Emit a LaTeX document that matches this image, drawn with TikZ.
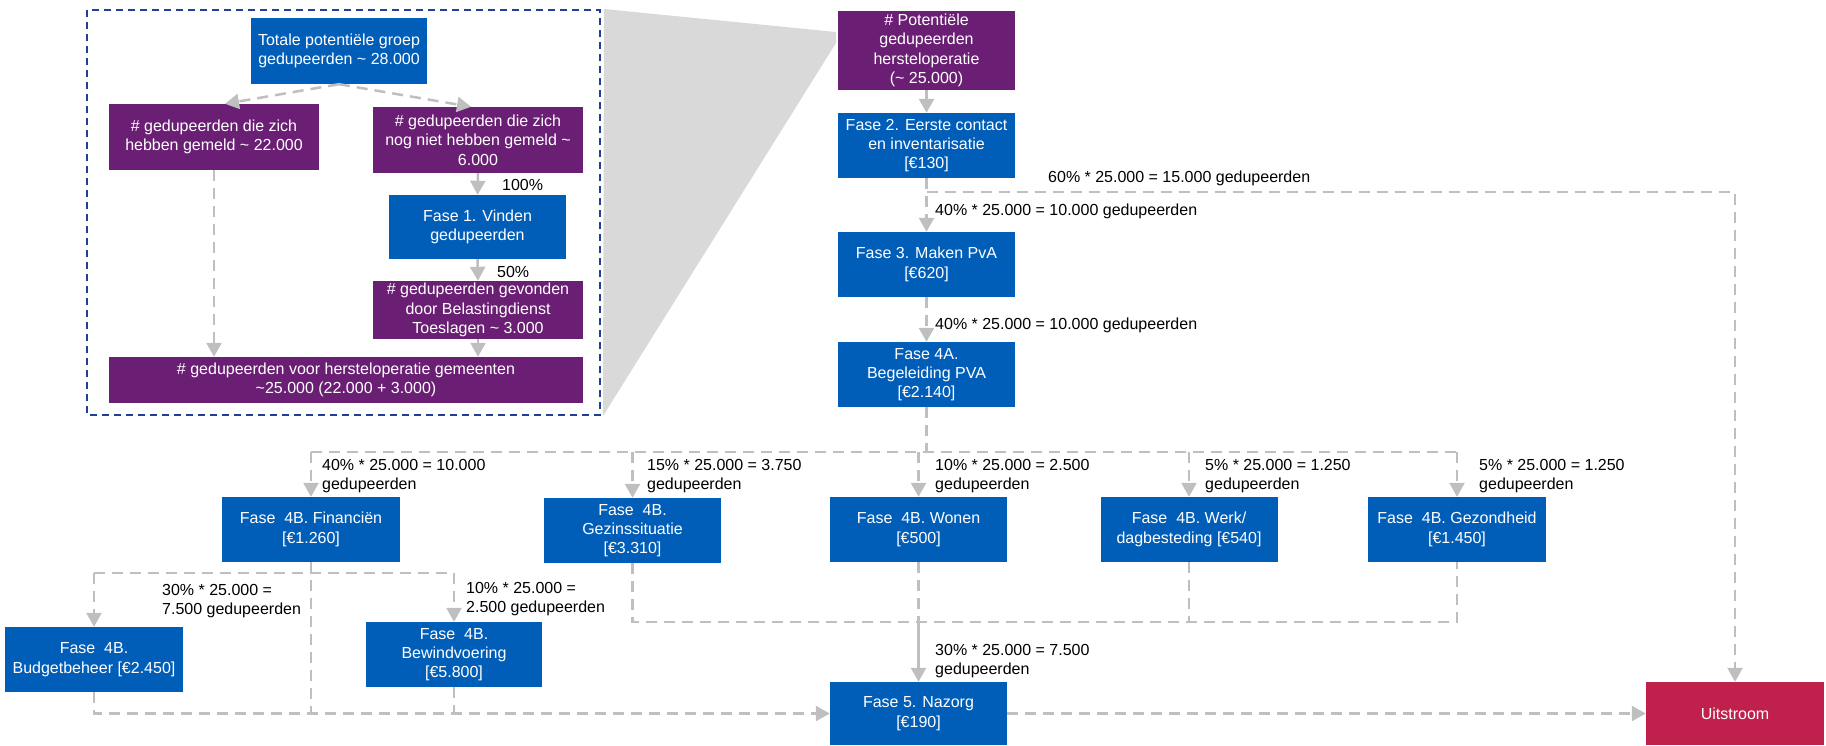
\documentclass[tikz,border=0pt]{standalone}
\usepackage{fontspec}
\setmainfont{Liberation Sans}
\usetikzlibrary{arrows.meta,calc}
\definecolor{boxblue}{RGB}{0,94,184}
\definecolor{boxpurple}{RGB}{107,31,116}
\definecolor{boxred}{RGB}{192,32,76}
\definecolor{arrowgray}{RGB}{191,191,191}
\definecolor{funnelgray}{RGB}{217,217,217}
\definecolor{frameblue}{RGB}{31,64,150}
\tikzset{
 box/.style={rectangle, inner sep=0pt, text=white, align=center, font=\fontsize{16}{19.3}\selectfont},
 bluebox/.style={box, fill=boxblue},
 purplebox/.style={box, fill=boxpurple},
 redbox/.style={box, fill=boxred},
 sz/.style 2 args={minimum width=#1pt, minimum height=#2pt},
 flow/.style={draw=arrowgray, line width=2.5pt, -{Triangle[width=15pt,length=14pt]}},
 dflow/.style={flow, dash pattern=on 11pt off 7pt},
 dline/.style={draw=arrowgray, line width=2.5pt, dash pattern=on 11pt off 7pt},
 lbl/.style={anchor=west, align=left, inner sep=0pt, text=black, font=\fontsize{16}{19.3}\selectfont},
}
\begin{document}
\begin{tikzpicture}[x=1pt,y=-1pt]
\useasboundingbox (0,0) rectangle (1826,745);
% funnel and frame
\fill[funnelgray] (604,9) -- (836,32) -- (836,43) -- (603,416) -- cycle;
\draw[frameblue, line width=2pt, dash pattern=on 7pt off 5pt] (87,10) rectangle (600,415);
% left panel
\node[bluebox, sz={176}{66}] (tot) at (339,51) {Totale potentiële groep\\gedupeerden \textasciitilde{} 28.000};
\node[purplebox, sz={210}{66}] (k22) at (214,137) {\# gedupeerden die zich\\hebben gemeld \textasciitilde{} 22.000};
\node[purplebox, sz={210}{66}] (k6) at (478,140) {\# gedupeerden die zich\\nog niet hebben gemeld \textasciitilde\\6.000};
\node[bluebox, sz={177}{64}] (f1) at (477.5,227) {Fase 1. Vinden\\gedupeerden};
\node[purplebox, sz={210}{58}] (k3) at (478,310) {\# gedupeerden gevonden\\door Belastingdienst\\Toeslagen \textasciitilde{} 3.000};
\node[purplebox, sz={474}{46}] (bot) at (346,380) {\# gedupeerden voor hersteloperatie gemeenten\\\textasciitilde25.000 (22.000 + 3.000)};
\draw[dflow] (tot.south) -- ($(k22.north)+(11,0)$);
\draw[dflow] (tot.south) -- ($(k6.north)+(-7,0)$);
\draw[dflow] (k22.south) -- (k22.south |- bot.north);
\draw[flow] (k6.south) -- (f1.north);
\draw[flow] (f1.south) -- (k3.north);
\draw[flow] (k3.south) -- (k3.south |- bot.north);
\node[lbl] (l100) at (502,185) {100\%};
\node[lbl] (l50) at (497,272) {50\%};
% right column
\node[purplebox, sz={177}{79}] (pot) at (926.5,50.5) {\# Potentiële\\gedupeerden\\hersteloperatie\\(\textasciitilde{} 25.000)};
\node[bluebox, sz={177}{65}] (f2) at (926.5,145.5) {Fase 2. Eerste contact\\en inventarisatie\\{[}€130]};
\node[bluebox, sz={177}{65}] (f3) at (926.5,264.5) {Fase 3. Maken PvA\\{[}€620]};
\node[bluebox, sz={177}{65}] (f4a) at (926.5,374.5) {Fase 4A.\\Begeleiding PVA\\{[}€2.140]};
% 4B row
\node[bluebox, sz={178}{65}] (fin) at (311,529.5) {Fase~ 4B. Financiën\\{[}€1.260]};
\node[bluebox, sz={177}{65}] (gez) at (632.5,530.5) {Fase~ 4B.\\Gezinssituatie\\{[}€3.310]};
\node[bluebox, sz={177}{65}] (won) at (918.5,529.5) {Fase~ 4B. Wonen\\{[}€500]};
\node[bluebox, sz={177}{65}] (werk) at (1189,529.5) {Fase~ 4B. Werk/\\dagbesteding [€540]};
\node[bluebox, sz={178}{65}] (gzh) at (1457,529.5) {Fase~ 4B. Gezondheid\\{[}€1.450]};
\node[bluebox, sz={178}{65}] (bud) at (94,659.5) {Fase~ 4B.\\Budgetbeheer [€2.450]};
\node[bluebox, sz={176}{65}] (bew) at (454,654.5) {Fase~ 4B.\\Bewindvoering\\{[}€5.800]};
\node[bluebox, sz={177}{63}] (naz) at (918.5,713.5) {Fase 5. Nazorg\\{[}€190]};
\node[redbox, sz={178}{63}] (uit) at (1735,713.5) {Uitstroom};
% right column connectors
\draw[flow] (pot.south) -- (f2.north);
\draw[dflow] (f2.south) -- (f3.north);
\coordinate (c60) at (f2.south |- 0,192);
\draw[dflow] (c60) -| (uit.north);
\node[lbl] (l60) at (1048,178) {60\% * 25.000 = 15.000 gedupeerden};
\node[lbl] (l40a) at (935,211) {40\% * 25.000 = 10.000 gedupeerden};
\draw[dflow] (f3.south) -- (f4a.north);
\node[lbl] (l40b) at (935,325) {40\% * 25.000 = 10.000 gedupeerden};
% distribution from 4A
\coordinate (d) at (f4a.south |- 0,452);
\draw[dline] (f4a.south) -- (d);
\draw[dline] (fin.north |- d) -- (gzh.north |- d);
\draw[dflow] (fin.north |- d) -- (fin.north);
\draw[dflow] (gez.north |- d) -- (gez.north);
\draw[dflow] (won.north |- d) -- (won.north);
\draw[dflow] (werk.north |- d) -- (werk.north);
\draw[dflow] (gzh.north |- d) -- (gzh.north);
\node[lbl] (lfin) at (322,476) {40\% * 25.000 = 10.000\\gedupeerden};
\node[lbl] (lgez) at (647,476) {15\% * 25.000 = 3.750\\gedupeerden};
\node[lbl] (lwon) at (935,476) {10\% * 25.000 = 2.500\\gedupeerden};
\node[lbl] (lwerk) at (1205,476) {5\% * 25.000 = 1.250\\gedupeerden};
\node[lbl] (lgzh) at (1479,476) {5\% * 25.000 = 1.250\\gedupeerden};
% financien split
\coordinate (s) at (fin.south |- 0,573);
\draw[dline] (fin.south) -- (fin.south |- naz.west);
\draw[dline] (bud.north |- s) -- (bew.north |- s);
\draw[dflow] (bud.north |- s) -- (bud.north);
\draw[dflow] (bew.north |- s) -- (bew.north);
\node[lbl] (lbud) at (162,601) {30\% * 25.000 =\\7.500 gedupeerden};
\node[lbl] (lbew) at (466,599) {10\% * 25.000 =\\2.500 gedupeerden};
\draw[dflow] (bud.south) |- (naz.west);
\draw[dline] (bew.south) -- (bew.south |- naz.west);
% join to Nazorg
\coordinate (j) at (won.south |- 0,622);
\draw[dline] (gez.south) |- (gzh.south |- j) -- (gzh.south);
\draw[dline] (werk.south) -- (werk.south |- j);
\draw[dline] (won.south) -- (j);
\draw[flow] (j) -- (naz.north);
\node[lbl] (lnaz) at (935,661) {30\% * 25.000 = 7.500\\gedupeerden};
\draw[dflow] (naz.east) -- (uit.west);
\end{tikzpicture}
\end{document}
